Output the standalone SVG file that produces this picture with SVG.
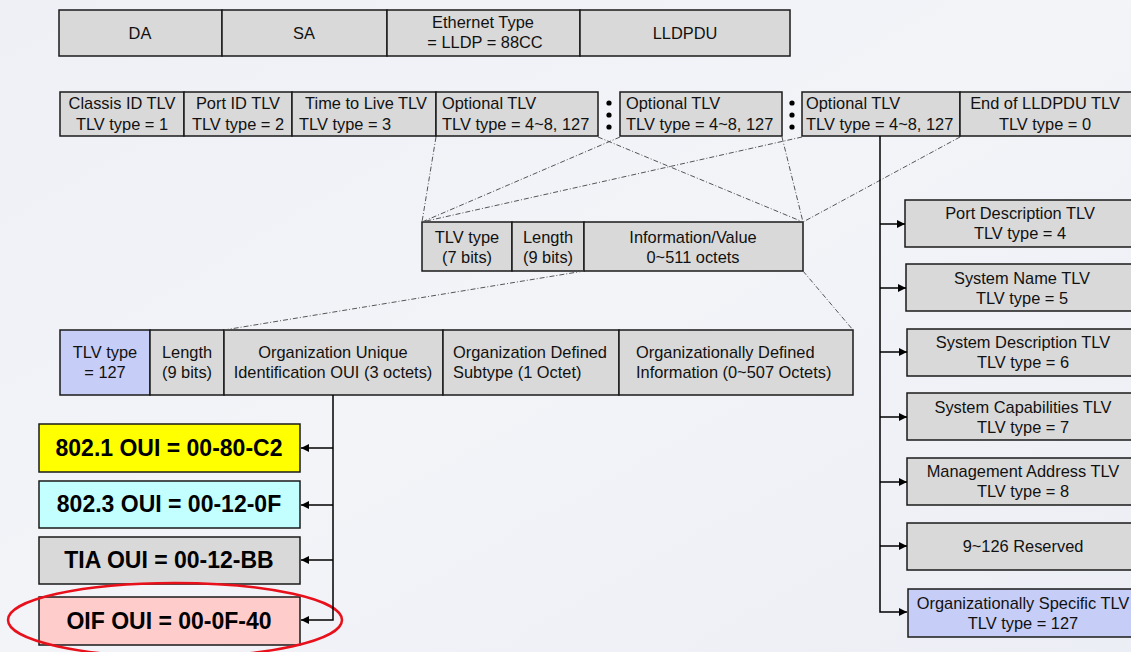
<svg xmlns="http://www.w3.org/2000/svg" width="1131" height="652" viewBox="0 0 1131 652">
<defs>
<linearGradient id="bg" x1="0" y1="0" x2="1" y2="1">
<stop offset="0" stop-color="#eef0f6"/>
<stop offset="0.5" stop-color="#f3f4f8"/>
<stop offset="1" stop-color="#eceef5"/>
</linearGradient>
<marker id="ah" viewBox="0 0 10 10" refX="10" refY="5" markerWidth="8" markerHeight="8" markerUnits="userSpaceOnUse" orient="auto">
<path d="M0,0 L10,5 L0,10 z" fill="#000"/>
</marker>
<style>
.b{fill:#d9d9d9;stroke:#1a1a1a;stroke-width:1.5}
.blue{fill:#c6cdf6;stroke:#1a1a1a;stroke-width:1.5}
.t{font-family:"Liberation Sans",Arial,sans-serif;font-size:16.4px;fill:#111}
.m{text-anchor:middle}
.big{font-family:"Liberation Sans",Arial,sans-serif;font-size:23px;font-weight:bold;fill:#000;text-anchor:middle}
.dd{stroke:#555;stroke-width:1;fill:none;stroke-dasharray:5 2 1 2}
.ln{stroke:#000;stroke-width:1.5;fill:none}
.dot{fill:#000}
</style>
</defs>
<rect width="1131" height="652" fill="url(#bg)"/>

<g id="frame">
<rect class="b" x="59" y="10" width="163" height="46"/>
<rect class="b" x="222" y="10" width="165" height="46"/>
<rect class="b" x="387" y="10" width="193" height="46"/>
<rect class="b" x="580" y="10" width="210" height="46"/>
<text class="t m" x="140" y="39">DA</text>
<text class="t m" x="304" y="39">SA</text>
<text class="t m" x="483" y="28">Ethernet Type</text>
<text class="t m" x="485" y="48">= LLDP = 88CC</text>
<text class="t m" x="685" y="39">LLDPDU</text>
</g>

<g id="lldpdu">
<g id="chassis"><rect class="b" x="60" y="92" width="124" height="44"/>
<text class="t m" x="122" y="109">Classis ID TLV</text><text class="t m" x="122" y="130">TLV type = 1</text></g>
<g id="portid"><rect class="b" x="184" y="92" width="108" height="44"/>
<text class="t m" x="238" y="109">Port ID TLV</text><text class="t m" x="238" y="130">TLV type = 2</text></g>
<g id="ttl"><rect class="b" x="292" y="92" width="144" height="44"/>
<text class="t m" x="366" y="109">Time to Live TLV</text><text class="t" x="299" y="130">TLV type = 3</text></g>
<g id="opt1"><rect class="b" x="436" y="92" width="162" height="44"/>
<text class="t" x="442" y="109">Optional TLV</text><text class="t" x="442" y="130">TLV type = 4~8, 127</text></g>
<g id="dots1"><circle class="dot" cx="609" cy="103" r="2.6"/><circle class="dot" cx="609" cy="115" r="2.6"/><circle class="dot" cx="609" cy="127" r="2.6"/></g>
<g id="opt2"><rect class="b" x="620" y="92" width="162" height="44"/>
<text class="t" x="626" y="109">Optional TLV</text><text class="t" x="626" y="130">TLV type = 4~8, 127</text></g>
<g id="dots2"><circle class="dot" cx="792" cy="103" r="2.6"/><circle class="dot" cx="792" cy="115" r="2.6"/><circle class="dot" cx="792" cy="127" r="2.6"/></g>
<g id="opt3"><rect class="b" x="802" y="92" width="158" height="44"/>
<text class="t" x="806" y="109">Optional TLV</text><text class="t" x="806" y="130">TLV type = 4~8, 127</text></g>
<g id="end"><rect class="b" x="960" y="92" width="180" height="44"/>
<text class="t m" x="1045" y="109">End of LLDPDU TLV</text><text class="t m" x="1045" y="130">TLV type = 0</text></g>
</g>

<g id="tlv">
<rect class="b" x="422" y="222" width="90" height="49"/>
<rect class="b" x="512" y="222" width="72" height="49"/>
<rect class="b" x="584" y="222" width="219" height="49"/>
<text class="t m" x="467" y="243">TLV type</text><text class="t m" x="467" y="263">(7 bits)</text>
<text class="t m" x="548" y="243">Length</text><text class="t m" x="548" y="263">(9 bits)</text>
<text class="t m" x="693" y="243">Information/Value</text><text class="t m" x="693" y="263">0~511 octets</text>
</g>

<g id="orgtlv">
<rect class="blue" x="60" y="330" width="90" height="65"/>
<rect class="b" x="150" y="330" width="74" height="65"/>
<rect class="b" x="224" y="330" width="219" height="65"/>
<rect class="b" x="443" y="330" width="176" height="65"/>
<rect class="b" x="619" y="330" width="234" height="65"/>
<text class="t m" x="105" y="358">TLV type</text><text class="t m" x="105" y="378">= 127</text>
<text class="t m" x="187" y="358">Length</text><text class="t m" x="187" y="378">(9 bits)</text>
<text class="t m" x="333" y="358">Organization Unique</text><text class="t m" x="333" y="378">Identification OUI (3 octets)</text>
<text class="t" x="453" y="358">Organization Defined</text><text class="t" x="453" y="378">Subtype (1 Octet)</text>
<text class="t" x="636" y="358">Organizationally Defined</text><text class="t" x="636" y="378">Information (0~507 Octets)</text>
</g>

<g id="oui8021"><rect x="39" y="424" width="261" height="48" fill="#ffff00" stroke="#1a1a1a" stroke-width="1.5"/>
<text class="big" x="169" y="456">802.1 OUI = 00-80-C2</text></g>
<g id="oui8023"><rect x="39" y="481" width="261" height="47" fill="#c4ffff" stroke="#1a1a1a" stroke-width="1.5"/>
<text class="big" x="169" y="512">802.3 OUI = 00-12-0F</text></g>
<g id="ouitia"><rect x="39" y="537" width="261" height="47" fill="#d9d9d9" stroke="#1a1a1a" stroke-width="1.5"/>
<text class="big" x="169" y="568">TIA OUI = 00-12-BB</text></g>
<g id="ouioif"><rect x="39" y="597" width="261" height="48" fill="#ffcccc" stroke="#1a1a1a" stroke-width="1.5"/>
<text class="big" x="169" y="629">OIF OUI = 00-0F-40</text></g>
<ellipse id="highlight" cx="175" cy="620" rx="167" ry="37" fill="none" stroke="#e8101a" stroke-width="2.5"/>

<g id="portdesc"><rect class="b" x="905" y="200" width="235" height="47"/>
<text class="t m" x="1020" y="219">Port Description TLV</text><text class="t m" x="1020" y="239">TLV type = 4</text></g>
<g id="sysname"><rect class="b" x="906" y="264" width="234" height="47"/>
<text class="t m" x="1022" y="284">System Name TLV</text><text class="t m" x="1022" y="304">TLV type = 5</text></g>
<g id="sysdesc"><rect class="b" x="907" y="329" width="233" height="47"/>
<text class="t m" x="1023" y="348">System Description TLV</text><text class="t m" x="1023" y="368">TLV type = 6</text></g>
<g id="syscap"><rect class="b" x="907" y="393" width="233" height="47"/>
<text class="t m" x="1023" y="413">System Capabilities TLV</text><text class="t m" x="1023" y="433">TLV type = 7</text></g>
<g id="mgmt"><rect class="b" x="907" y="458" width="233" height="47"/>
<text class="t m" x="1023" y="477">Management Address TLV</text><text class="t m" x="1023" y="497">TLV type = 8</text></g>
<g id="reserved"><rect class="b" x="907" y="523" width="233" height="47"/>
<text class="t m" x="1023" y="552">9~126 Reserved</text></g>
<g id="orgspec"><rect class="blue" x="908" y="589" width="232" height="48"/>
<text class="t m" x="1023" y="609">Organizationally Specific TLV</text><text class="t m" x="1023" y="629">TLV type = 127</text></g>

<g id="connectors">
<line class="dd" x1="436" y1="137" x2="422" y2="222"/>
<line class="dd" x1="620" y1="137" x2="422" y2="222"/>
<line class="dd" x1="802" y1="137" x2="422" y2="222"/>
<line class="dd" x1="598" y1="137" x2="803" y2="222"/>
<line class="dd" x1="782" y1="137" x2="803" y2="222"/>
<line class="dd" x1="960" y1="137" x2="803" y2="222"/>
<line class="dd" x1="584" y1="271" x2="224" y2="330"/>
<line class="dd" x1="803" y1="271" x2="853" y2="330"/>

<polyline class="ln" points="333,395 333,620 301,620" marker-end="url(#ah)"/>
<line class="ln" x1="333" y1="448" x2="301" y2="448" marker-end="url(#ah)"/>
<line class="ln" x1="333" y1="505" x2="301" y2="505" marker-end="url(#ah)"/>
<line class="ln" x1="333" y1="560" x2="301" y2="560" marker-end="url(#ah)"/>

<polyline class="ln" points="880,136 880,612 907,612" marker-end="url(#ah)"/>
<line class="ln" x1="880" y1="224" x2="905" y2="224" marker-end="url(#ah)"/>
<line class="ln" x1="880" y1="288" x2="906" y2="288" marker-end="url(#ah)"/>
<line class="ln" x1="880" y1="352" x2="907" y2="352" marker-end="url(#ah)"/>
<line class="ln" x1="880" y1="417" x2="907" y2="417" marker-end="url(#ah)"/>
<line class="ln" x1="880" y1="482" x2="907" y2="482" marker-end="url(#ah)"/>
<line class="ln" x1="880" y1="546" x2="907" y2="546" marker-end="url(#ah)"/>
</g>
</svg>
